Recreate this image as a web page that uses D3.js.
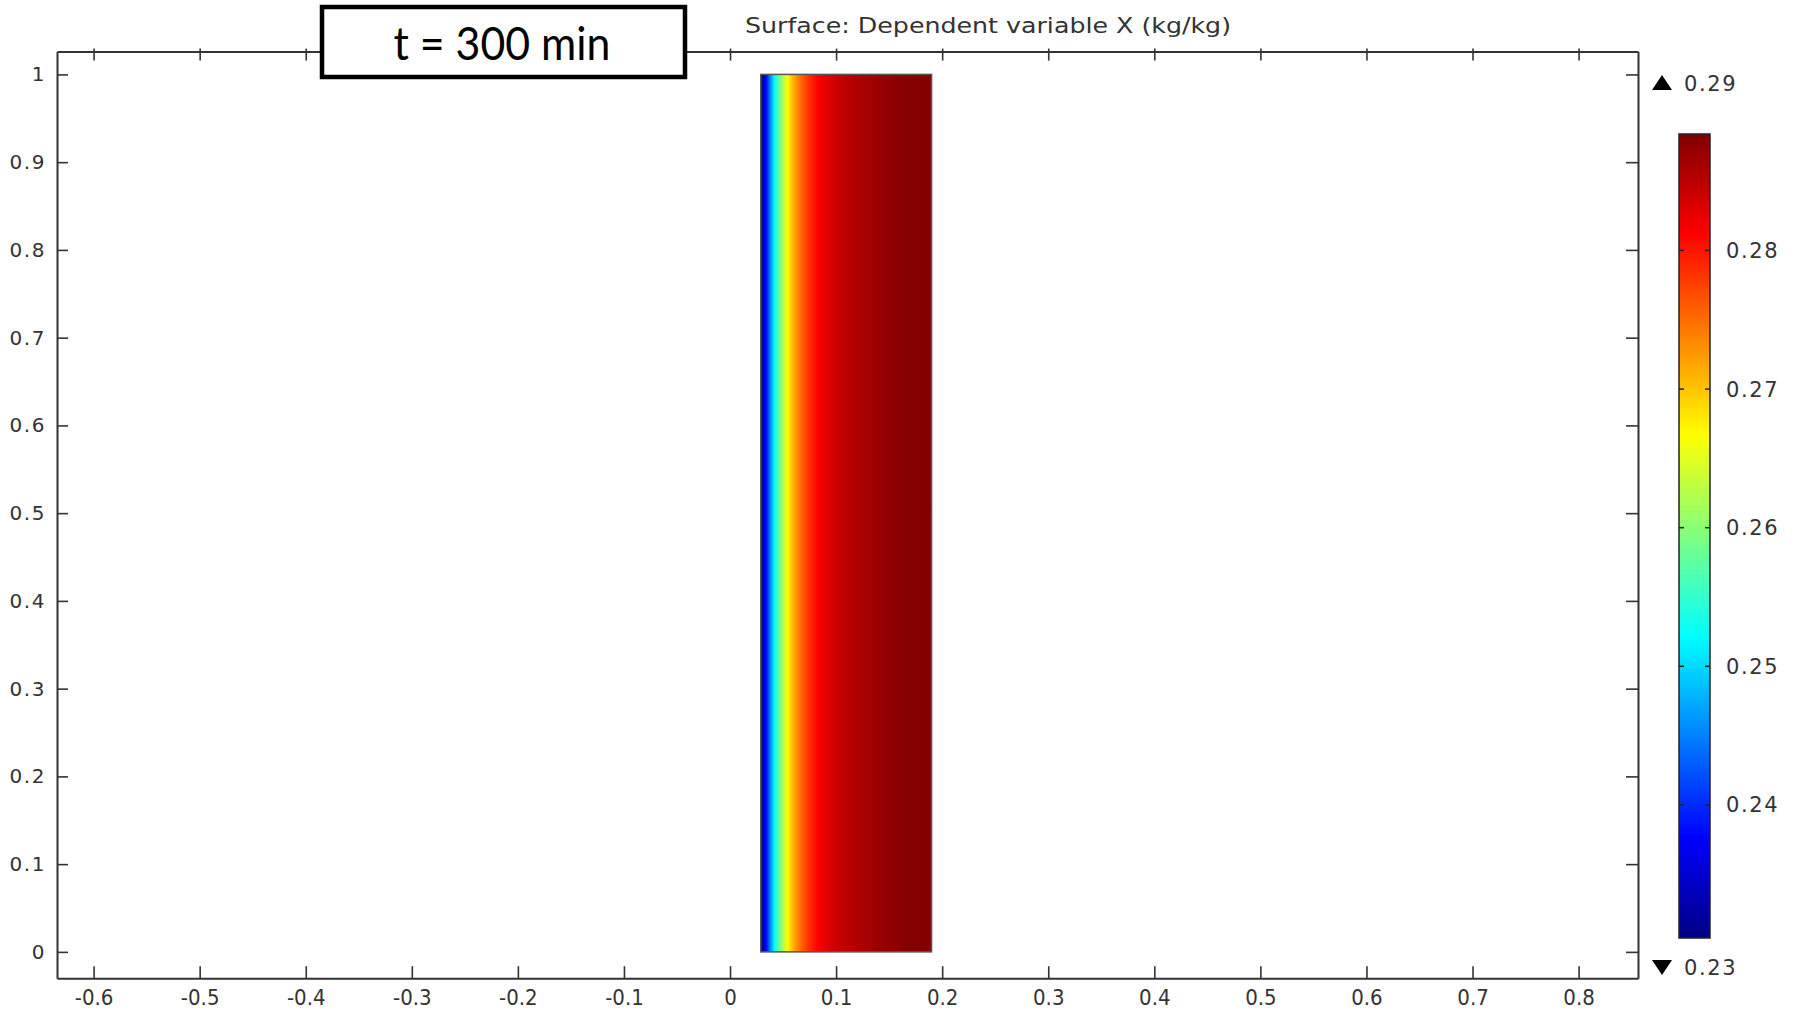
<!DOCTYPE html>
<html>
<head>
<meta charset="utf-8">
<script src="https://cdn.jsdelivr.net/npm/d3@7"></script>
<style>
  body { margin: 0; background: #fff; }
  svg { display: block; }
</style>
</head>
<body>
<div id="chart"></div>
<script>
// ---- data ----
const xTicks = [-0.6, -0.5, -0.4, -0.3, -0.2, -0.1, 0, 0.1, 0.2, 0.3, 0.4, 0.5, 0.6, 0.7, 0.8];
const yTicks = [0, 0.1, 0.2, 0.3, 0.4, 0.5, 0.6, 0.7, 0.8, 0.9, 1];
const colorTicks = [0.24, 0.25, 0.26, 0.27, 0.28];
const xDomain = [-0.6345, 0.856];
const yDomain = [-0.03, 1.026];

// domain of the surface (a rectangle in x/y)
const domainX = [0.029, 0.19];
const domainY = [0, 1];

// X (kg/kg) across the width, constant along y
const profileX = [0.029, 0.031, 0.034, 0.038, 0.042, 0.046, 0.050, 0.054, 0.059, 0.064,
                  0.069, 0.074, 0.083, 0.094, 0.105, 0.120, 0.141, 0.165, 0.190];
const profileVal = [0.2306, 0.2325, 0.2377, 0.2455, 0.2522, 0.2575, 0.2620, 0.2665, 0.2705, 0.2737,
                    0.2762, 0.2783, 0.2812, 0.2832, 0.2845, 0.2858, 0.2870, 0.2880, 0.2885];

const colorRange = [0.2304, 0.2884];
const maxLabel = '0.29';
const minLabel = '0.23';
const title = 'Surface: Dependent variable X (kg/kg)';
const timeLabel = 't = 300 min';

// ---- layout ----
const width = 1794, height = 1013;
const plot = { left: 57, right: 1638, top: 51.6, bottom: 978.2 };
const bar = { x0: 1679, x1: 1710, top: 134, bottom: 938 };
const axisColor = '#333';
const fmt = d => String(+d.toFixed(2));

const x = d3.scaleLinear().domain(xDomain).range([plot.left, plot.right]);
const y = d3.scaleLinear().domain(yDomain).range([plot.bottom, plot.top]);

// jet-like rainbow used by the plot
const jetPos = [0, 0.125, 0.375, 0.625, 0.875, 1];
const jetCol = ['#000083', '#0000ff', '#00ffff', '#ffff00', '#ff0000', '#800000'];
const color = d3.scaleLinear()
    .domain(jetPos.map(p => colorRange[0] + p * (colorRange[1] - colorRange[0])))
    .range(jetCol)
    .clamp(true);

const svg = d3.select('#chart').append('svg')
    .attr('width', width)
    .attr('height', height)
    .attr('viewBox', [0, 0, width, height]);

const defs = svg.append('defs');

// gradient across the surface
const surfGrad = defs.append('linearGradient')
    .attr('id', 'surf')
    .attr('x1', 0).attr('y1', 0).attr('x2', 1).attr('y2', 0);
surfGrad.selectAll('stop')
    .data(profileX.map((px, i) => ({ px, v: profileVal[i] })))
    .join('stop')
    .attr('offset', d => (d.px - domainX[0]) / (domainX[1] - domainX[0]))
    .attr('stop-color', d => color(d.v));

// gradient for the colour bar
const barGrad = defs.append('linearGradient')
    .attr('id', 'bar')
    .attr('x1', 0).attr('y1', 1).attr('x2', 0).attr('y2', 0);
barGrad.selectAll('stop')
    .data(jetPos)
    .join('stop')
    .attr('offset', d => d)
    .attr('stop-color', (d, i) => jetCol[i]);

// surface
svg.append('rect')
    .attr('x', x(domainX[0]))
    .attr('y', y(domainY[1]))
    .attr('width', x(domainX[1]) - x(domainX[0]))
    .attr('height', y(domainY[0]) - y(domainY[1]))
    .attr('fill', 'url(#surf)')
    .attr('stroke', '#555')
    .attr('stroke-width', 1.5);

// axes
function styleAxis(g) {
    g.select('.domain').attr('stroke', axisColor).attr('stroke-width', 2);
    g.selectAll('.tick line').attr('stroke', axisColor).attr('stroke-width', 1.6);
    g.selectAll('.tick text').attr('fill', axisColor);
}

svg.append('g')
    .attr('transform', `translate(0,${plot.bottom})`)
    .call(d3.axisBottom(x).tickValues(xTicks).tickFormat(fmt).tickSize(-12).tickSizeOuter(0).tickPadding(11))
    .call(styleAxis)
    .call(g => g.selectAll('.tick text')
        .attr('font-family', 'DejaVu Sans Condensed, DejaVu Sans')
        .attr('font-size', 22));

svg.append('g')
    .attr('transform', `translate(0,${plot.top})`)
    .call(d3.axisTop(x).tickValues(xTicks).tickFormat('').tickSize(-9).tickSizeOuter(0))
    .call(styleAxis)
    .call(g => g.selectAll('.tick line').attr('y1', -3));

svg.append('g')
    .attr('transform', `translate(${plot.left},0)`)
    .call(d3.axisLeft(y).tickValues(yTicks).tickFormat(fmt).tickSize(-11).tickSizeOuter(0).tickPadding(11))
    .call(styleAxis)
    .call(g => g.selectAll('.tick text')
        .attr('font-family', 'DejaVu Sans')
        .attr('font-size', 20)
        .attr('letter-spacing', 1.6));

svg.append('g')
    .attr('transform', `translate(${plot.right},0)`)
    .call(d3.axisRight(y).tickValues(yTicks).tickFormat('').tickSize(-12).tickSizeOuter(0))
    .call(styleAxis);

// title
svg.append('text')
    .attr('x', 745)
    .attr('y', 33)
    .attr('font-family', 'DejaVu Sans Condensed, DejaVu Sans')
    .attr('font-size', 21)
    .attr('fill', axisColor)
    .attr('textLength', 486)
    .attr('lengthAdjust', 'spacingAndGlyphs')
    .text(title);

// time box
svg.append('rect')
    .attr('x', 322)
    .attr('y', 7)
    .attr('width', 363)
    .attr('height', 70)
    .attr('fill', '#fff')
    .attr('stroke', '#000')
    .attr('stroke-width', 4.5);
svg.append('text')
    .attr('x', 502)
    .attr('y', 60)
    .attr('text-anchor', 'middle')
    .attr('font-family', 'Lato, Open Sans, sans-serif')
    .attr('font-size', 47)
    .attr('fill', '#000')
    .attr('textLength', 217)
    .attr('lengthAdjust', 'spacingAndGlyphs')
    .text(timeLabel);

// colour bar
const cb = d3.scaleLinear().domain(colorRange).range([bar.bottom, bar.top]);
const cbG = svg.append('g');
cbG.append('rect')
    .attr('x', bar.x0)
    .attr('y', bar.top)
    .attr('width', bar.x1 - bar.x0)
    .attr('height', bar.bottom - bar.top)
    .attr('fill', 'url(#bar)')
    .attr('stroke', '#222')
    .attr('stroke-width', 1.5);

cbG.selectAll('line.l')
    .data(colorTicks)
    .join('line')
    .attr('class', 'l')
    .attr('x1', bar.x0).attr('x2', bar.x0 + 5)
    .attr('y1', d => cb(d)).attr('y2', d => cb(d))
    .attr('stroke', '#222').attr('stroke-width', 1.5);
cbG.selectAll('line.r')
    .data(colorTicks)
    .join('line')
    .attr('class', 'r')
    .attr('x1', bar.x1 - 5).attr('x2', bar.x1)
    .attr('y1', d => cb(d)).attr('y2', d => cb(d))
    .attr('stroke', '#222').attr('stroke-width', 1.5);

cbG.selectAll('text.t')
    .data(colorTicks)
    .join('text')
    .attr('class', 't')
    .attr('x', 1726)
    .attr('y', d => cb(d))
    .attr('dy', '0.36em')
    .attr('font-family', 'DejaVu Sans')
    .attr('font-size', 21)
    .attr('letter-spacing', 1.6)
    .attr('fill', axisColor)
    .text(fmt);

// max / min markers
const marks = [
    { label: maxLabel, cy: 83, up: true },
    { label: minLabel, cy: 967, up: false }
];
const mk = cbG.selectAll('g.mk').data(marks).join('g').attr('class', 'mk');
mk.append('path')
    .attr('d', d => d.up
        ? `M${1652},${d.cy + 7} L${1672},${d.cy + 7} L${1662},${d.cy - 8} Z`
        : `M${1652},${d.cy - 7} L${1672},${d.cy - 7} L${1662},${d.cy + 8} Z`)
    .attr('fill', '#000');
mk.append('text')
    .attr('x', 1684)
    .attr('y', d => d.cy)
    .attr('dy', '0.36em')
    .attr('font-family', 'DejaVu Sans')
    .attr('font-size', 21)
    .attr('letter-spacing', 1.6)
    .attr('fill', axisColor)
    .text(d => d.label);
</script>
</body>
</html>
